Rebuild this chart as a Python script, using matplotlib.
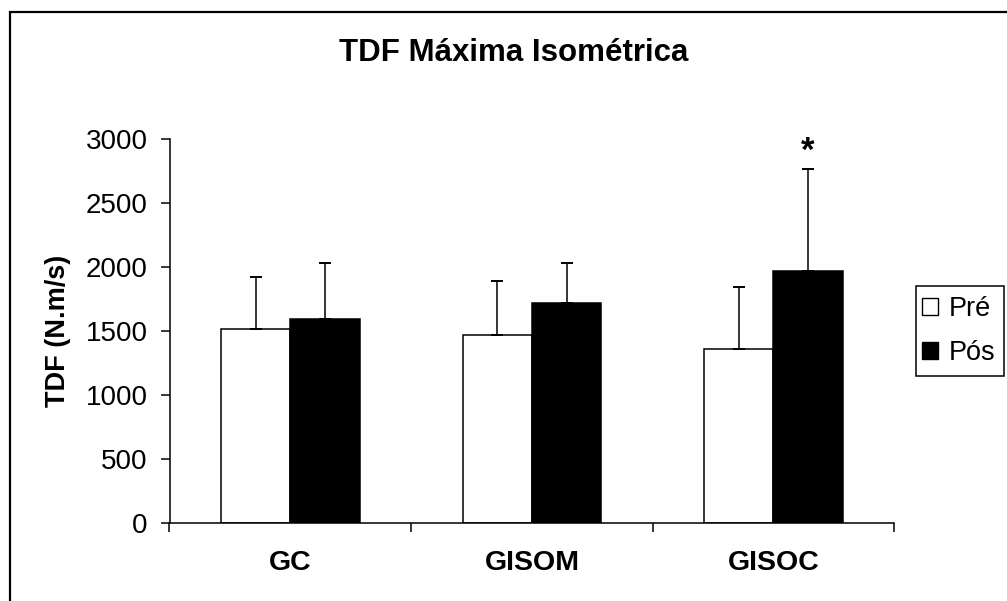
import matplotlib
matplotlib.use("Agg")
import matplotlib.pyplot as plt
import numpy as np
from matplotlib.patches import Patch, Rectangle

plt.rcParams['font.family'] = ['Liberation Sans', 'DejaVu Sans']

categories = ["GC", "GISOM", "GISOC"]
series_names = ["Pré", "Pós"]
pre_values = [1515, 1469, 1359]
pre_errors = [409, 421, 487]
pos_values = [1598, 1723, 1971]
pos_errors = [433, 308, 795]
y_ticks = [0, 500, 1000, 1500, 2000, 2500, 3000]
significant = [False, False, True]  # asterisk on Pós

W, H = 1007, 601
fig = plt.figure(figsize=(W / 100, H / 100), dpi=100)
ax = fig.add_axes([169.5 / W, 1 - 523.3 / H, (894.3 - 169.5) / W, (523.3 - 139.3) / H])

x = np.arange(len(categories))
bw = 0.287
lw = 1.1
ax.bar(x - bw / 2, pre_values, bw, color="white", edgecolor="black", linewidth=lw, zorder=2)
ax.bar(x + bw / 2, pos_values, bw, color="black", edgecolor="black", linewidth=lw, zorder=2)
ax.errorbar(x - bw / 2, pre_values, yerr=[np.zeros(3), pre_errors], fmt="none",
            ecolor="black", elinewidth=1.1, capsize=4, capthick=1.4, zorder=3)
ax.errorbar(x + bw / 2, pos_values, yerr=[np.zeros(3), pos_errors], fmt="none",
            ecolor="black", elinewidth=1.1, capsize=4, capthick=1.4, zorder=3)

for i, s in enumerate(significant):
    if s:
        ax.annotate("*", xy=(x[i] + bw / 2, pos_values[i] + pos_errors[i]),
                    xytext=(0, 1), textcoords="offset points", ha="center", va="bottom",
                    fontsize=25, fontweight="bold", annotation_clip=False)

ax.set_xlim(-0.5, 2.5)
ax.set_ylim(0, 3000)
ax.set_yticks(y_ticks)
ax.set_yticklabels([str(v) for v in y_ticks], fontsize=20)
ax.tick_params(axis="y", direction="out", length=6.2, width=1.1, pad=9.5)

ax.set_xticks([-0.5, 0.5, 1.5, 2.5])
ax.set_xticklabels([])
ax.tick_params(axis="x", which="major", direction="out", length=6.2, width=1.1)
ax.set_xticks(x, minor=True)
ax.set_xticklabels(categories, minor=True, fontsize=20.5, fontweight="bold")
ax.tick_params(axis="x", which="minor", length=0, pad=19.5)

for sp in ["top", "right"]:
    ax.spines[sp].set_visible(False)
for sp in ["left", "bottom"]:
    ax.spines[sp].set_linewidth(1.1)

ax.set_ylabel("TDF (N.m/s)", fontsize=19.5, fontweight="bold")
ax.yaxis.set_label_coords(-0.136, 0.5)

fig.text(513.5 / W, 1 - 53 / H, "TDF Máxima Isométrica", ha="center", va="center",
         fontsize=22.5, fontweight="bold")

# legend (frame drawn separately so that padding can differ per direction)
lx0, lx1, ly0, ly1 = 916, 1004, 286, 376
handles = [Patch(facecolor="white", edgecolor="black", linewidth=1.0),
           Patch(facecolor="black", edgecolor="black", linewidth=1.0)]
leg = fig.legend(handles, series_names, loc="center",
                 bbox_to_anchor=((lx0 + lx1) / 2 / W - 1.5 / W, 1 - (ly0 + ly1) / 2 / H),
                 fontsize=19.5, handlelength=0.6, handleheight=0.6, handletextpad=0.4,
                 labelspacing=0.67, borderpad=0.1, borderaxespad=0, frameon=False)
fig.patches.append(Rectangle((lx0 / W, 1 - ly1 / H), (lx1 - lx0) / W, (ly1 - ly0) / H,
                             transform=fig.transFigure, fill=False, edgecolor="black",
                             linewidth=1.1))

fig.patches.append(Rectangle((9.5 / W, -0.1), 1.2, 1 - 12 / H + 0.1, transform=fig.transFigure,
                             fill=False, edgecolor="black", linewidth=1.6))

fig.savefig("out.png", dpi=100)
